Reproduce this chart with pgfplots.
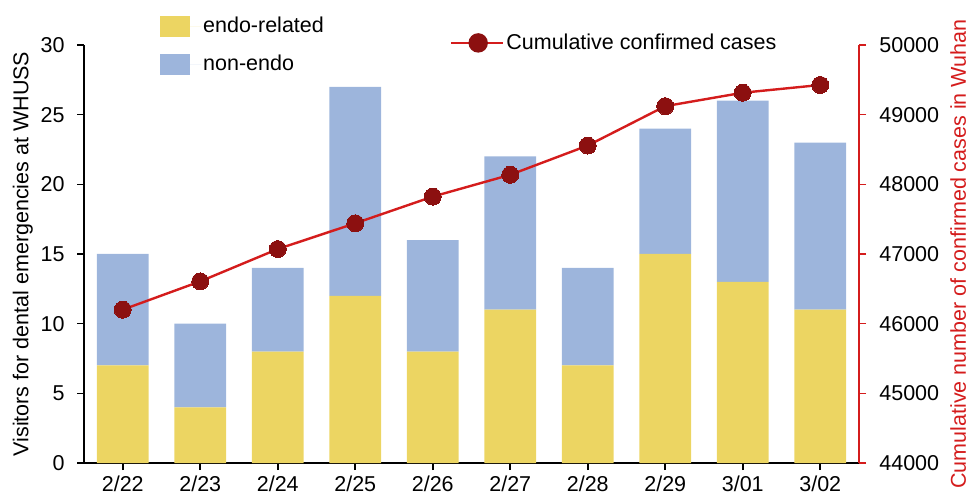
\documentclass[border=0pt]{standalone}
\usepackage{pgfplots}
\pgfplotsset{compat=1.18}
\usepackage{fontspec}
\setmainfont{Liberation Sans}
\definecolor{endo}{RGB}{236,213,98}
\definecolor{nonendo}{RGB}{157,181,220}
\definecolor{linered}{RGB}{212,28,28}
\definecolor{markred}{RGB}{140,16,16}
\newcommand{\bigf}{\fontsize{21.5pt}{25pt}\selectfont}
\begin{document}
\bigf
\begin{tikzpicture}[x=1pt,y=1pt]
\useasboundingbox (0,0) rectangle (972pt,498pt);
\begin{axis}[
  at={(84pt,35pt)}, anchor=south west,
  scale only axis, width=775pt, height=418pt,
  xmin=-0.5, xmax=9.5, ymin=0, ymax=30,
  ybar stacked, bar width=0.67,
  axis x line*=bottom, axis y line*=left,
  axis line style={line width=2.4pt, -},
  xtick={0,...,9},
  xticklabels={2/22,2/23,2/24,2/25,2/26,2/27,2/28,2/29,3/01,3/02},
  ytick={0,5,...,30},
  tick style={black, line width=1.6pt},
  major tick length=7pt,
  tick align=outside,
  every tick label/.append style={font=\bigf},
  xticklabel style={inner sep=0pt, yshift=-6pt},
  yticklabel style={xshift=-5pt},
  /pgf/number format/assume math mode=true,
  ylabel={Visitors for dental emergencies at WHUSS},
  ylabel style={font=\bigf, inner sep=0pt, at={(axis description cs:-0.079,0.5)}, anchor=center},
  legend style={at={(0.098,1.072)}, anchor=north west, draw=none, fill=none,
    inner sep=0pt, row sep=15pt, font=\bigf,
    cells={anchor=west}},
  legend cell align=left,
]
\addplot[fill=endo, draw=none,
  legend image code/.code={\fill[endo] (0pt,-10.5pt) rectangle (30pt,10.5pt);
    \path (0pt,0pt) -- (41pt,0pt);}]
  coordinates {(0,7) (1,4) (2,8) (3,12) (4,8) (5,11) (6,7) (7,15) (8,13) (9,11)};
\addlegendentry{endo-related}
\addplot[fill=nonendo, draw=none,
  legend image code/.code={\fill[nonendo] (0pt,-10.5pt) rectangle (30pt,10.5pt);
    \path (0pt,0pt) -- (41pt,0pt);}]
  coordinates {(0,8) (1,6) (2,6) (3,15) (4,8) (5,11) (6,7) (7,9) (8,13) (9,12)};
\addlegendentry{non-endo}
\end{axis}
\begin{axis}[
  at={(84pt,35pt)}, anchor=south west,
  scale only axis, width=775pt, height=418pt,
  xmin=-0.5, xmax=9.5, ymin=44000, ymax=50000,
  axis x line=none, axis y line*=right,
  axis line style={line width=2pt, linered, -},
  ytick={44000,45000,...,50000},
  scaled y ticks=false,
  yticklabel style={/pgf/number format/1000 sep={}, font=\bigf, xshift=6pt},
  /pgf/number format/assume math mode=true,
  tick style={linered, line width=1.6pt},
  major tick length=7pt,
  tick align=outside,
  ylabel={Cumulative number of confirmed cases in Wuhan},
  ylabel style={font=\bigf, text=linered, inner sep=0pt, at={(axis description cs:1.128,0.5)}, anchor=center},
  legend style={at={(0.472,1.005)}, anchor=west, draw=none, fill=none,
    inner sep=0pt, font=\bigf},
]
\addplot[linered, line width=2.4pt, mark=*, mark size=8.5pt,
  mark options={fill=markred, draw=markred, line width=0pt},
  legend image code/.code={\draw[linered, line width=2.4pt] (0pt,0pt) -- (52pt,0pt);
    \fill[markred] (27pt,0pt) circle (8.5pt);}]
  coordinates {(0,46201) (1,46607) (2,47071) (3,47441) (4,47824) (5,48137) (6,48557) (7,49122) (8,49315) (9,49426)};
\addlegendentry{Cumulative confirmed cases}
\end{axis}
\end{tikzpicture}
\end{document}
